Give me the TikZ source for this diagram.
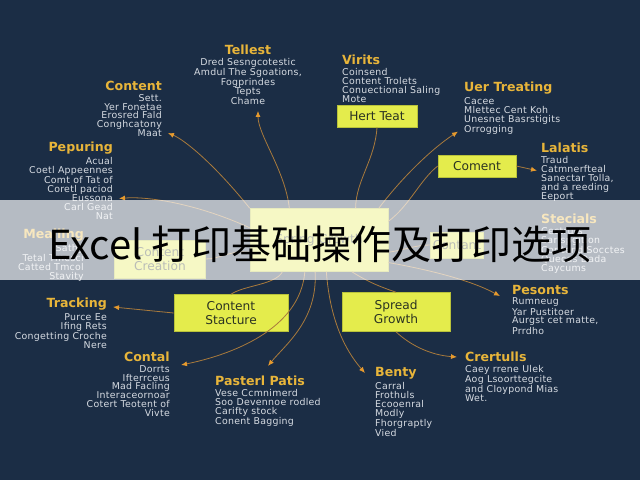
\documentclass[tikz,border=0pt]{standalone}
\usepackage{fontspec}
\setmainfont{DejaVu Sans}
\newfontfamily\cjk{Noto Sans CJK SC}
\usetikzlibrary{calc,positioning,arrows.meta}
\definecolor{navy}{HTML}{1B2D45}
\definecolor{gold}{HTML}{E8B53A}
\definecolor{chalk}{HTML}{D6DBE2}
\definecolor{lime}{HTML}{E4EC4C}
\definecolor{limeedge}{HTML}{B9C23A}
\definecolor{boxink}{HTML}{2B3322}
\definecolor{wire}{HTML}{A97A3C}
\definecolor{tip}{HTML}{E69A2E}
\newcommand{\Body}{\fontsize{9.4}{8.9}\selectfont\addfontfeature{LetterSpace=3}}
\newcommand{\Head}{\fontsize{12.6}{13}\selectfont\bfseries}
\newcommand{\Boxf}{\fontsize{12.2}{14}\selectfont}

\begin{document}
\begin{tikzpicture}[x=1pt,y=-1pt,
    hd/.style={text=gold,font=\Head,inner sep=0pt},
    bd/.style={text=chalk,font=\Body,inner sep=0pt},
    card/.style={fill=lime,draw=limeedge,line width=0.6pt,text=boxink,font=\Boxf,align=center,inner sep=0pt},
    wire/.style={draw=wire,line width=0.8pt},
    arr/.style={wire,-{Latex[length=6pt,width=5pt,color=tip]}}]
  \fill[navy] (0,0) rectangle (640,480);
  \useasboundingbox (0,0) rectangle (640,480);

  % boxes
  \node[card,minimum width=138,minimum height=63] (hub) at (319,240) {Spring Growth};
  \node[card,minimum width=80,minimum height=22] (hert) at (377,116) {Hert Teat};
  \node[card,minimum width=78,minimum height=22] (coment) at (477,166) {Coment};
  \node[card,minimum width=91,minimum height=38] (ccr) at (160,259) {Content\\Creation};
  \node[card,minimum width=53,minimum height=26] (contant) at (457,245) {Contant};
  \node[card,minimum width=114,minimum height=37] (cst) at (231,313) {Content\\Stacture};
  \node[card,minimum width=108,minimum height=39] (spr) at (396,312) {Spread\\Growth};

  % label groups
  \node[hd] (tlh) at (248,50) {Tellest};
  \node[bd,below=3pt of tlh,align=center] (tlb) {Dred Sesngcotestic\\Amdul The Sgoations,\\Fogprindes\\Tepts\\Chame};
  \node[hd,anchor=west] (vih) at (342,60) {Virits};
  \node[bd,below=3pt of vih.south west,anchor=north west,align=left] (vib) {Coinsend\\Content Trolets\\Conuectional Saling\\Mote};
  \node[hd,anchor=west] (ueh) at (464,88) {Uer Treating};
  \node[bd,below=3pt of ueh.south west,anchor=north west,align=left] (ueb) {Cacee\\Mlettec Cent Koh\\Unesnet Basrstigits\\Orrogging};
  \node[hd,anchor=west] (lah) at (541,148) {Lalatis};
  \node[bd,below=3pt of lah.south west,anchor=north west,align=left] (lab) {Traud\\Catmnerfteal\\Sanectar Tolla,\\and a reeding\\Eeport};
  \node[hd,anchor=east] (coh) at (162,86) {Content};
  \node[bd,below=3pt of coh.south east,anchor=north east,align=right] (cob) {Sett.\\Yer Fonetae\\Erosred Fald\\Conghcatony\\Maat};
  \node[hd,anchor=east] (peh) at (113,148) {Pepuring};
  \node[bd,below=3pt of peh.south east,anchor=north east,align=right] (peb) {Acual\\Coetl Appeennes\\Comt of Tat of\\Coretl paciod\\Eussona\\Carl Gead\\Nat};
  \node[hd,anchor=east] (meh) at (84,235) {Mealling};
  \node[bd,below=3pt of meh.south east,anchor=north east,align=right] (meb) {Sathy\\Tetal Tmesci\\Catted Tmcol\\Stavity};
  \node[hd,anchor=west] (sth) at (541,219) {Stecials};
  \node[bd,below=3pt of sth.south west,anchor=north west,align=left] (stb) {Cectruts\\Sar spgition\\Coritend Socctes\\Quecas Dada\\Caycums};
  \node[hd,anchor=east] (trh) at (107,304) {Tracking};
  \node[bd,below=3pt of trh.south east,anchor=north east,align=right] (trb) {Purce Ee\\Ifing Rets\\Congetting Croche\\Nere};
  \node[hd,anchor=east] (cth) at (170,357) {Contal};
  \node[bd,below=3pt of cth.south east,anchor=north east,align=right] (ctb) {Dorrts\\Ifterrceus\\Mad Facling\\Interaceornoar\\Cotert Teotent of\\Vivte};
  \node[hd,anchor=west] (pah) at (215,381) {Pasterl Patis};
  \node[bd,below=3pt of pah.south west,anchor=north west,align=left] (pab) {Vese Ccmnimerd\\Soo Devennoe rodled\\Carifty stock\\Conent Bagging};
  \node[hd,anchor=west] (beh) at (375,373) {Benty};
  \node[bd,below=3pt of beh.south west,anchor=north west,align=left] (beb) {Carral\\Frothuls\\Ecooenral\\Modly\\Fhorgraptly\\Vied};
  \node[hd,anchor=west] (crh) at (465,357) {Crertulls};
  \node[bd,below=3pt of crh.south west,anchor=north west,align=left] (crb) {Caey rrene Ulek\\Aog Lsoorttegcite\\and Cloypond Mias\\Wet.};
  \node[hd,anchor=west] (psh) at (512,290) {Pesonts};
  \node[bd,below=3pt of psh.south west,anchor=north west,align=left] (psb) {Rumneug\\Yar Pustitoer\\Aurgst cet matte,\\Prrdho};

  % arrow ends
  \coordinate (tlin) at ($(tlb.south)+(10,6)$);
  \coordinate (uein) at ($(ueb.south west)+(-6,-3)$);
  \coordinate (lain) at ($(lab.west)+(-4,-8)$);
  \coordinate (coin) at ($(cob.south east)+(6,-4)$);
  \coordinate (pein) at ($(peb.east)+(6,10)$);
  \coordinate (trin) at ($(trh.east)+(6,3)$);
  \coordinate (ctin) at ($(cth.east)+(11,8)$);
  \coordinate (pain) at ($(pah.north)+(8,-10)$);
  \coordinate (bein) at ($(beh.west)+(-10,0)$);
  \coordinate (crin) at ($(crh.west)+(-8,0)$);
  \coordinate (psin) at ($(psh.west)+(-12,6)$);

  % connectors
  \draw[arr] (hub.133) .. controls (285,170) and (258,135) .. (tlin);
  \draw[wire] (hert.south) .. controls (375,160) and (356,180) .. (hub.41);
  \draw[arr] (hub.28) .. controls (400,180) and (430,150) .. (uein);
  \draw[wire] (hub.15) .. controls (410,205) and (420,180) .. (coment.west);
  \draw[arr] (coment.east) -- (lain);
  \draw[arr] (hub.north west) .. controls (215,165) and (185,140) .. (coin);
  \draw[arr] (hub.170) .. controls (200,205) and (150,196) .. (pein);
  \draw[wire] (hub.190) .. controls (230,250) and (220,259) .. (ccr.east);
  \draw[wire] (hub.350) .. controls (405,250) and (415,245) .. (contant.west);
  \draw[arr] (cst.west) -- (trin);
  \draw[wire] (hub.221) .. controls (275,285) and (245,285) .. (cst.north);
  \draw[arr] (hub.246) .. controls (300,330) and (230,355) .. (ctin);
  \draw[arr] (hub.263) .. controls (318,320) and (285,345) .. (pain);
  \draw[arr] (hub.283) .. controls (330,320) and (345,350) .. (bein);
  \draw[wire] (hub.316) .. controls (365,280) and (375,285) .. (spr.north);
  \draw[arr] (hub.342) .. controls (430,270) and (470,280) .. (psin);
  \draw[arr] (spr.south) .. controls (410,345) and (430,355) .. (crin);

  % title band
  \fill[white,opacity=0.68] (0,200) rectangle (640,280);
  \node[text=black,font=\cjk\fontsize{40}{44}\selectfont,inner sep=0pt] (title) at (320,244) {Excel 打印基础操作及打印选项};
\end{tikzpicture}
\end{document}
